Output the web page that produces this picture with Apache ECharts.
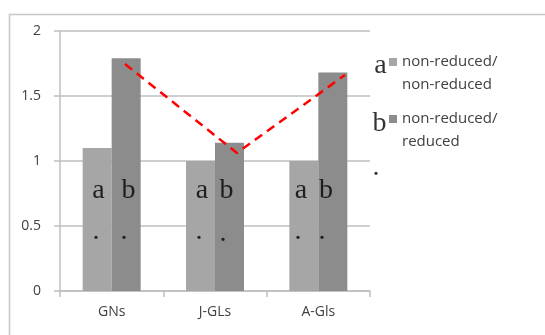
<!DOCTYPE html>
<html><head><meta charset="utf-8">
<script src="https://cdn.jsdelivr.net/npm/echarts@6/dist/echarts.min.js"></script>
<style>html,body{margin:0;padding:0;background:#fff}#c{width:545px;height:335px}</style>
</head><body><div id="c"></div>
<script>
// ---- data ----
const categories = ['GNs', 'J-GLs', 'A-Gls'];
const seriesNames = ['non-reduced/\nnon-reduced', 'non-reduced/\nreduced'];
const nonReducedNonReduced = [1.10, 1.00, 1.00];
const nonReducedReduced = [1.79, 1.14, 1.68];
const yTicks = [0, 0.5, 1, 1.5, 2];
// red dashed trend line (positions on a 0..3 category-span scale)
const trendX = [0.629, 1.713, 2.758];
const trendY = [1.746, 1.062, 1.662];
// text annotations (letters and dots), positions on the same scale
const annotText = ['a', 'b', 'a', 'b', 'a', 'b', '.', '.', '.', '.', '.', '.', 'a', 'b', '.'];
const annotX = [0.373, 0.663, 1.374, 1.611, 2.332, 2.574, 0.348, 0.619, 1.345, 1.577, 2.303, 2.535, 3.102, 3.092, 3.058];
const annotY = [0.773, 0.773, 0.773, 0.773, 0.773, 0.773, 0.454, 0.454, 0.454, 0.439, 0.454, 0.454, 1.735, 1.289, 0.946];

const chart = echarts.init(document.getElementById('c'), null, {renderer: 'canvas'});
const axisColor = '#bfbfbf';
const labelColor = '#404040';
const sans = '"Open Sans", sans-serif';
const serif = '"Liberation Serif", "DejaVu Serif", serif';

const legendIcon = 'path://M0,0h0.01v0.01h-0.01z M0,8h8v8h-8z M0,45.99h0.01v0.01h-0.01z';

chart.setOption({
  animation: false,
  backgroundColor: '#fff',
  title: {text: '1', left: 266, top: -18, padding: 0,
    textStyle: {fontFamily: serif, fontSize: 22, fontWeight: 'normal', color: '#000'}},
  graphic: [{type: 'rect', left: 7, top: 12, shape: {width: 700, height: 500}, z: -10,
    style: {fill: 'none', stroke: '#c8c8c8', lineWidth: 1.5}}],
  legend: {
    orient: 'vertical', left: 389, top: 50, padding: 0,
    itemWidth: 8, itemHeight: 46, itemGap: 11,
    icon: legendIcon,
    data: seriesNames,
    textStyle: {fontFamily: sans, fontSize: 15, color: labelColor, lineHeight: 23}
  },
  grid: {left: 60, right: 175, top: 31, bottom: 44},
  xAxis: [{
    type: 'category', data: categories,
    axisLine: {lineStyle: {color: axisColor, width: 1.5}},
    axisTick: {show: true, length: 6, lineStyle: {color: axisColor, width: 1.5}},
    axisLabel: {fontFamily: sans, fontSize: 14, color: labelColor, margin: 14}
  }, {
    type: 'value', min: 0, max: 3, show: false
  }],
  yAxis: {
    type: 'value', min: yTicks[0], max: yTicks[yTicks.length - 1], interval: 0.5,
    axisLine: {show: true, lineStyle: {color: axisColor, width: 1.5}},
    axisTick: {show: true, length: 6, lineStyle: {color: axisColor, width: 1.5}},
    splitLine: {lineStyle: {color: axisColor, width: 1.5}},
    axisLabel: {fontFamily: sans, fontSize: 14, color: labelColor, margin: 19}
  },
  series: [
    {name: seriesNames[0], type: 'bar', data: nonReducedNonReduced, barWidth: 29, barGap: '0%',
      itemStyle: {color: '#a6a6a6'}},
    {name: seriesNames[1], type: 'bar', data: nonReducedReduced, barWidth: 29, barGap: '0%',
      itemStyle: {color: '#8c8c8c'}},
    {type: 'line', xAxisIndex: 1, data: trendX.map((x, i) => [x, trendY[i]]),
      symbol: 'none', z: 5,
      lineStyle: {color: '#ff0000', width: 2.5, type: [9, 6]}},
    {type: 'scatter', xAxisIndex: 1, clip: false, z: 6, symbolSize: 1,
      itemStyle: {color: 'rgba(0,0,0,0)'},
      data: annotX.map((x, i) => ({value: [x, annotY[i]], name: annotText[i]})),
      label: {show: true, position: 'inside', formatter: p => p.name,
        fontFamily: serif, fontSize: 28, color: '#000'}}
  ]
});
</script></body></html>
